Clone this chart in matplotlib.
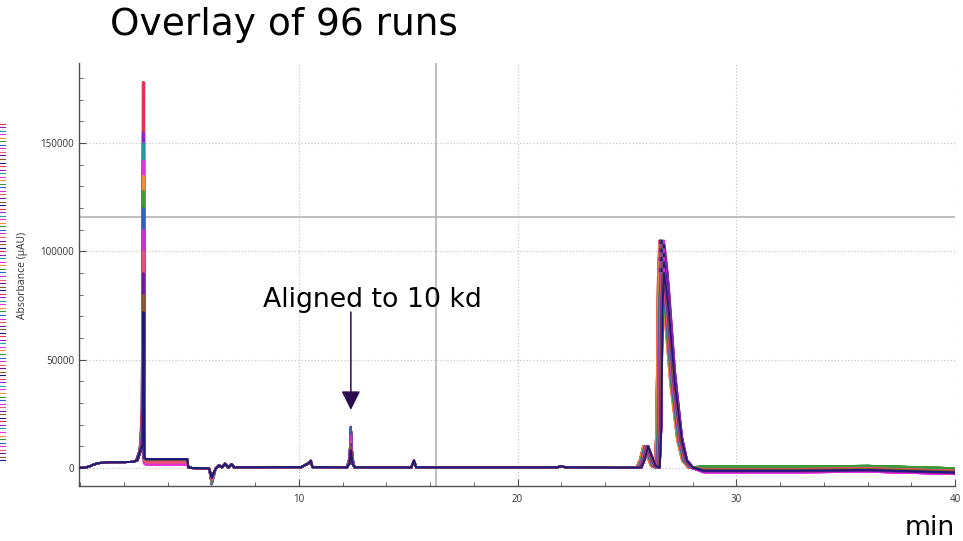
#!/usr/bin/env python3
# Overlay of 96 chromatogram runs, aligned on the 10 kd marker.

import numpy as np
import matplotlib
matplotlib.use("Agg")
import matplotlib.pyplot as plt
from matplotlib.ticker import MultipleLocator, FixedLocator

# --- values ------------------------------------------------------------
N_RUNS = 96

# colour per run (cycled), last ones end up on top
RUN_COLORS = ["#e8304f", "#8e24c8", "#1f9e9e", "#ee2ee0", "#f0902e", "#3a9a3a",
              "#2f5fc8", "#d82bd0", "#e8547a", "#6a1b9a", "#8a5a2a", "#1c1a7a"]

# injection peak apex (uAU), one per colour
MAIN_H = [178000, 155000, 150000, 142000, 135000, 128000,
          120000, 110000, 100000, 90000, 80000, 72000]
# injection peak retention shift (min), one per block of 12 runs
MAIN_SHIFT = [-0.03, -0.02, -0.01, 0.0, 0.01, 0.02, 0.03, 0.0]
# plateau after the injection peak, one per colour
PLATEAU = [3600, 4000, 3800, 1700, 3700, 3900, 3800, 2000, 2400, 4000, 3800, 4100]
# negative system dip near 6 min
DIP = [-7400, -6500, -5500, -4500]
# 10 kd marker peak
MARKER_H = [19000, 15000, 12000, 11000, 10000, 8300]
# main protein peak apex and retention shift
BIG_H = [105000, 103000, 101000, 99000, 97000, 95000, 92000, 90000]
BIG_SHIFT = [-0.10, -0.06, -0.03, 0.0, 0.02, 0.05, 0.08, 0.12]
# baseline level after 28 min, one per colour
TAIL = [-500, -1500, -800, -2000, -600, 700, -1000, -1800, -400, -1600, -700, -1200]

CURSOR_T = 16.27
CURSOR_Y = 115900


def build_run(i):
    c = i % 12
    h = MAIN_H[c]
    sm = MAIN_SHIFT[i // 12]
    p = PLATEAU[c]
    d = DIP[(i // 3) % 4]
    hm = MARKER_H[i % 6]
    hb = BIG_H[(i // 12) % 8]
    sb = BIG_SHIFT[i % 8]
    k = hb / 105000.0
    tl = TAIL[c]
    pts = [
        (0.0, 0), (0.3, 300), (0.8, 2200), (1.2, 2600), (2.4, 2800),
        (2.6 + sm, 3500), (2.75 + sm, 8000), (2.85 + sm, 0.15 * h),
        (2.9 + sm, h), (2.94 + sm, p + 500), (3.0 + sm, p),
        (4.9, p), (4.95, 300), (5.1, 0),
        (5.9, -200), (6.02, d), (6.2, -300), (6.35, 1200), (6.5, 300),
        (6.63, 2000), (6.78, 200), (6.93, 1800), (7.05, 300),
        (10.1, 400), (10.45, 2200), (10.55, 3300), (10.62, 400),
        (12.2, 300), (12.32, 0.25 * hm), (12.38, hm), (12.45, 0.25 * hm), (12.55, 300),
        (15.15, 300), (15.26, 3400), (15.37, 300),
        (21.8, 300), (22.0, 800), (22.2, 300), (25.4, 200),
        (25.55 + sb, 300), (25.7 + sb, 4000), (25.85 + sb, 10100), (26.0 + sb, 6000),
        (26.2 + sb, 1000), (26.38 + sb, 200),
        (26.45 + sb, 20000 * k), (26.52 + sb, 90000 * k), (26.58 + sb, hb),
        (26.7 + sb, 95000 * k), (26.8 + sb, 84000 * k), (27.08 + sb, 45000 * k),
        (27.4 + sb, 14500 * k), (27.63 + sb, 3700 * k), (27.9 + sb, 300),
        (28.5, tl), (33.0, tl), (36.0, tl + 300), (40.0, tl - 800),
    ]
    t, y = zip(*pts)
    return np.array(t), np.array(y)


fig = plt.figure(figsize=(9.63, 5.41), dpi=100)
ax = fig.add_axes([0.082, 0.1017, 0.9097, 0.7820])

small_font = "Open Sans"
lines = []
for i in range(N_RUNS):
    t, y = build_run(i)
    ln, = ax.plot(t, y, color=RUN_COLORS[i % 12], lw=1.4, solid_joinstyle="round",
                  zorder=3)
    lines.append(ln)

# cursor lines
ax.axvline(CURSOR_T, color="#b4b4b4", lw=1.2, zorder=2)
ax.axhline(CURSOR_Y, color="#b4b4b4", lw=1.2, zorder=2)

ax.set_xlim(-0.05, 40)
ax.set_ylim(-8300, 187000)

ax.xaxis.set_major_locator(FixedLocator([10, 20, 30, 40]))
ax.xaxis.set_minor_locator(MultipleLocator(2))
ax.yaxis.set_major_locator(FixedLocator([0, 50000, 100000, 150000]))
ax.yaxis.set_minor_locator(MultipleLocator(10000))
ax.grid(True, which="major", ls=":", color="#c8c8c8", lw=0.9, zorder=1)

for s in ("top", "right"):
    ax.spines[s].set_visible(False)
for s in ("left", "bottom"):
    ax.spines[s].set_color("#505050")
    ax.spines[s].set_linewidth(1.0)

ax.tick_params(which="both", direction="in", colors="#505050", labelcolor="#333333",
               labelsize=7)
ax.tick_params(which="major", length=5)
ax.tick_params(which="minor", length=3)
for lab in ax.get_xticklabels() + ax.get_yticklabels():
    lab.set_fontfamily(small_font)
ax.tick_params(axis="x", pad=6)

fig.text(22 / 963, 1 - 275 / 541, "Absorbance (\u00b5AU)", rotation=90,
         ha="center", va="center", fontsize=7.5, color="#333333", family=small_font)

# annotation for the 10 kd marker
ax.annotate("", xy=(12.38, 26800), xytext=(12.38, 72000),
            arrowprops=dict(arrowstyle="-|>,head_length=0.4,head_width=0.2",
                            mutation_scale=29, lw=1.1, color="#2b0b4f",
                            shrinkA=0, shrinkB=0), zorder=5)
ax.text(13.35, 77500, "Aligned to 10 kd", ha="center", va="center", fontsize=19.3,
        color="black", zorder=6)

fig.text(110 / 963, 1 - 25 / 541, "Overlay of 96 runs", ha="left", va="center",
         fontsize=27, color="black")
fig.text(955 / 963, 1 - 528 / 541, "min", ha="right", va="center", fontsize=19.3,
         color="black")

# run legend strip along the left edge of the window (labels hidden in the tool)
leg = ax.legend(handles=lines, labels=[""] * N_RUNS, loc="center left",
                bbox_to_anchor=(0.0, 1 - 292 / 541),
                bbox_transform=fig.transFigure, fontsize=2.18,
                frameon=False, handlelength=1.6, handleheight=0.7, handletextpad=0.0,
                labelspacing=-0.15, borderpad=0.0, borderaxespad=0.0)
for lh in leg.get_lines():
    lh.set_linewidth(0.8)

fig.savefig("out.png", dpi=100)
